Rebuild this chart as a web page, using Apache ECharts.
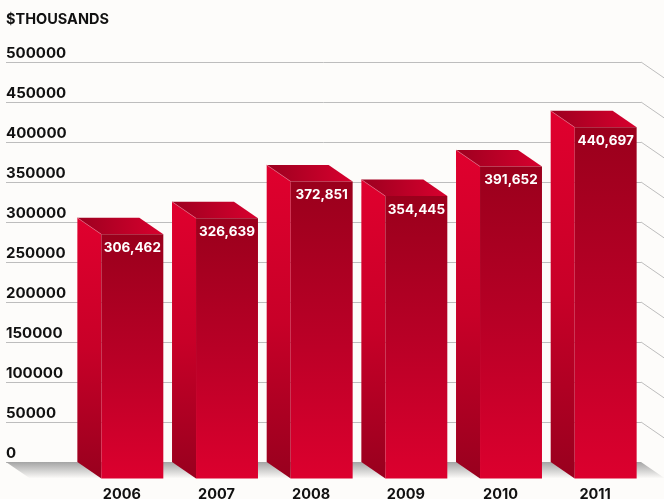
<!DOCTYPE html>
<html>
<head>
<meta charset="utf-8">
<style>html,body{margin:0;padding:0;background:#fdfcfa;overflow:hidden}#chart{width:664px;height:499px}</style>
<script src="https://cdn.jsdelivr.net/npm/echarts@6/dist/echarts.min.js"></script>
</head>
<body>
<div id="chart"></div>
<script>
// Annual figures, in thousands of dollars
const years = ['2006', '2007', '2008', '2009', '2010', '2011'];
const amounts = [306462, 326639, 372851, 354445, 391652, 440697];
const wallTicks = [50000, 100000, 150000, 200000, 250000, 300000, 350000, 400000, 450000, 500000];

const font = 'Inter, "Noto Sans", sans-serif';
const DEPTH_X = 24, DEPTH_Y = 16.5;
const grad = (x, y, x2, y2, a, b, c) => ({
  type: 'linear', x, y, x2, y2,
  colorStops: c ? [{offset: 0, color: a}, {offset: .5, color: b}, {offset: 1, color: c}]
                : [{offset: 0, color: a}, {offset: 1, color: b}]
});

// One extruded column: left side, top cap, front face and the value printed on the front
function renderColumn(params, api) {
  const p = api.coord([api.value(0), api.value(1)]);
  const base = api.coord([api.value(0), 0]);
  const total = api.size([1, 0])[0] * 0.908;
  const left = p[0] - total / 2, right = left + total;
  const fl = left + DEPTH_X;
  const topY = p[1], botY = base[1];
  const poly = (points, fill) => ({type: 'polygon', shape: {points}, style: {fill}});
  return {
    type: 'group',
    children: [
      poly([[left, topY], [fl, topY + DEPTH_Y], [fl, botY + DEPTH_Y], [left, botY]],
           grad(0, 0, 0, 1, '#e0002e', '#c80028', '#98001e')),
      poly([[left, topY], [right - DEPTH_X, topY], [right, topY + DEPTH_Y], [fl, topY + DEPTH_Y]],
           grad(0, 0, 1, 0, '#9c001f', '#d8002e')),
      {type: 'line', shape: {x1: left, y1: topY, x2: fl, y2: topY + DEPTH_Y},
       style: {stroke: '#e8708a', lineWidth: 0.6}},
      poly([[fl, topY + DEPTH_Y], [right, topY + DEPTH_Y], [right, botY + DEPTH_Y], [fl, botY + DEPTH_Y]],
           grad(0, 0, 0, 1, '#9a001c', '#b80026', '#dc002e')),
      {type: 'text', x: (fl + right) / 2, y: topY + DEPTH_Y + 13.5,
       style: {text: api.value(1).toLocaleString('en-US'), fill: '#fff',
               font: '700 13.5px ' + font, align: 'center', verticalAlign: 'middle'}}
    ]
  };
}

// Shaded floor running forward from the foot of the wall
function renderFloor(params, api) {
  const a = api.coord([0, 0]), b = api.coord([1, 0]);
  return {
    type: 'polygon',
    shape: {points: [a, b, [b[0] + DEPTH_X, b[1] + DEPTH_Y], [a[0] + DEPTH_X, a[1] + DEPTH_Y]]},
    style: {fill: grad(0, 0, 0, 1, '#a4a4a4', '#fdfcfa')}
  };
}

// Short return of each gridline along the right-hand side wall
function renderReturn(params, api) {
  const a = api.coord([1, api.value(0)]);
  return {
    type: 'line',
    shape: {x1: a[0], y1: a[1], x2: a[0] + DEPTH_X, y2: a[1] + DEPTH_Y},
    style: {stroke: '#bdbdbd', lineWidth: 1}
  };
}

const chart = echarts.init(document.getElementById('chart'), null, {renderer: 'canvas'});
chart.setOption({
  animation: false,
  backgroundColor: '#fdfcfa',
  title: {
    text: '$THOUSANDS', left: 6, top: 12, padding: 0,
    textStyle: {fontFamily: font, fontSize: 14.5, fontWeight: 700, color: '#111'}
  },
  grid: [
    {left: 6, top: 62, width: 635, height: 400, outerBoundsMode: 'none'},
    {left: 73, top: 62, width: 568, height: 400, outerBoundsMode: 'none'}
  ],
  xAxis: [
    {type: 'value', gridIndex: 0, min: 0, max: 1, show: false},
    {type: 'category', gridIndex: 1, data: years, position: 'bottom',
     axisLine: {show: false}, axisTick: {show: false},
     axisLabel: {margin: 25, padding: [0, 0, 0, 3], color: '#111', fontFamily: font, fontSize: 14.5, fontWeight: 700}}
  ],
  yAxis: [
    {type: 'value', gridIndex: 0, min: 0, max: 500000, interval: 50000,
     axisLine: {show: false}, axisTick: {show: false},
     splitLine: {lineStyle: {color: '#bdbdbd', width: 1}},
     axisLabel: {inside: true, margin: 0, align: 'left', verticalAlign: 'bottom', padding: [0, 0, 1, 0],
                 formatter: v => String(v),
                 color: '#111', fontFamily: font, fontSize: 15, fontWeight: 700}},
    {type: 'value', gridIndex: 1, min: 0, max: 502000, show: false}
  ],
  series: [
    {type: 'custom', xAxisIndex: 0, yAxisIndex: 0, z: 1, silent: true, clip: false,
     data: [[0]], renderItem: renderFloor},
    {type: 'custom', xAxisIndex: 0, yAxisIndex: 0, z: 1, silent: true, clip: false,
     data: wallTicks.map(v => [v]), encode: {y: 0}, renderItem: renderReturn},
    {type: 'custom', xAxisIndex: 1, yAxisIndex: 1, z: 3, clip: false,
     data: amounts.map((v, i) => [i, v]), encode: {x: 0, y: 1}, renderItem: renderColumn}
  ]
});
</script>
</body>
</html>
